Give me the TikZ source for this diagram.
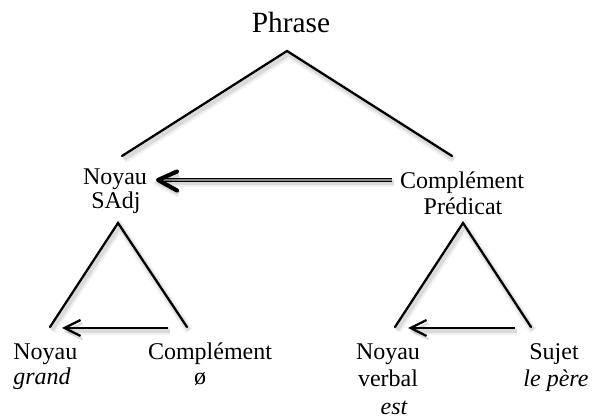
\documentclass[tikz,border=0pt]{standalone}
\usepackage{fontspec}
\setmainfont{Liberation Serif}
\usetikzlibrary{arrows.meta}
\begin{document}
\begin{tikzpicture}[x=0.75pt,y=-0.75pt,
  lbl/.style={inner sep=0pt, anchor=base, font=\fontsize{18}{22}\selectfont},
  title/.style={inner sep=0pt, anchor=base, font=\fontsize{22}{26}\selectfont},
  shade/.style={
    preaction={draw=black, draw opacity=0.06, line width=6pt,
      transform canvas={shift={(1.5pt,-2.6pt)}}},
    preaction={draw=black, draw opacity=0.09, line width=3.2pt,
      transform canvas={shift={(1.4pt,-2.3pt)}}}},
  branch/.style={shade, line width=1.7pt, line cap=round},
  link/.style={shade, line width=1.7pt,
    -{Straight Barb[length=12pt, width=12pt, line width=1.7pt]}},
  dbl/.style={double=black!45, double distance=1.3pt, line width=0.8pt},
  chevron/.style={shade, line width=3.1pt, line cap=round, line join=round}
]
\useasboundingbox (0,0) rectangle (593,420);

% labels
\node[title] (phr) at (291,33) {Phrase};
\node[lbl] (ns1) at (115,185) {Noyau};
\node[lbl] (ns2) at (116,209) {SAdj};
\node[lbl] (cp1) at (462,189) {Complément};
\node[lbl] (cp2) at (463,215) {Prédicat};

\node[lbl, anchor=base west] (nl1) at (13,360) {Noyau};
\node[lbl, anchor=base west] (nl2) at (13,385) {\itshape grand};
\node[lbl] (cl1) at (210,360) {Complément};
\node[lbl] (cl2) at (200,385) {ø};

\node[lbl] (nr1) at (388,360) {Noyau};
\node[lbl] (nr2) at (388,387) {verbal};
\node[lbl] (nr3) at (394,415) {\itshape est};
\node[lbl] (sr1) at (554,360) {Sujet};
\node[lbl] (sr2) at (556,387) {\itshape le père};

% branch points
\coordinate (top)  at (287,51);
\coordinate (topL) at (122,156);
\coordinate (topR) at (452,156);

\coordinate (aL)  at (118,223);
\coordinate (aLl) at (50,327);
\coordinate (aLr) at (187,327);

\coordinate (aR)  at (463,223);
\coordinate (aRl) at (395,327);
\coordinate (aRr) at (531,327);

% arrow ends
\coordinate (hTail) at (392,180);
\coordinate (hTip)  at (158,180);
\coordinate (lTail) at (168,328);
\coordinate (lTip)  at (62,328);
\coordinate (rTail) at (515,328);
\coordinate (rTip)  at (408,328);

% tree branches
\draw[branch] (topL) -- (top) -- (topR);
\draw[branch] (aLl) -- (aL) -- (aLr);
\draw[branch] (aRl) -- (aR) -- (aRr);

% dependency arrows
\draw[link] (lTail) -- (lTip);
\draw[link] (rTail) -- (rTip);

\draw[shade, line width=3.5pt, draw opacity=0] (hTail) -- ([xshift=3pt]hTip);
\draw[dbl] (hTail) -- ([xshift=3pt]hTip);
\draw[chevron] ([shift={(19,-8.5)}]hTip) -- (hTip) -- ([shift={(19,10.5)}]hTip);

\end{tikzpicture}
\end{document}
